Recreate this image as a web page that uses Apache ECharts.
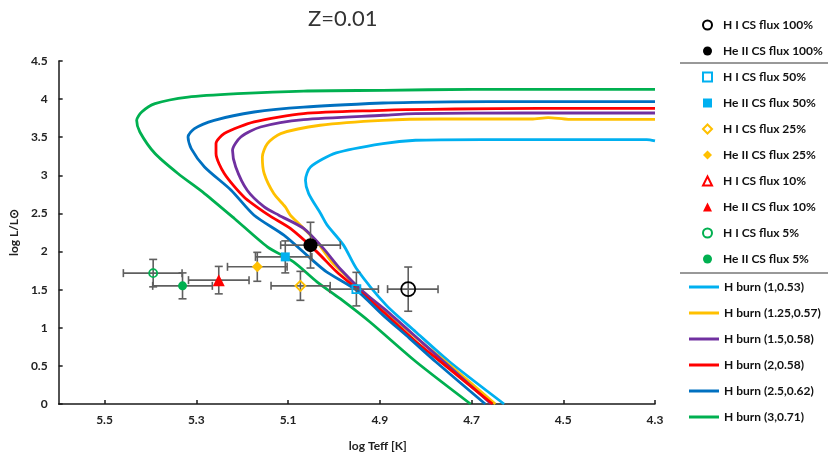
<!DOCTYPE html>
<html>
<head>
<meta charset="utf-8">
<script src="https://cdn.jsdelivr.net/npm/echarts@6/dist/echarts.min.js"></script>
<style>html,body{margin:0;padding:0;background:#fff;}</style>
</head>
<body>
<div id="main" style="width:830px;height:467px;"></div>
<script>
// tick labels
var xTicks = [4.3, 4.5, 4.7, 4.9, 5.1, 5.3, 5.5];

// evolutionary tracks [log Teff, log L/Lsun]
var burn1 = [[4.3,3.451],[4.318,3.469],[4.677,3.469],[4.822,3.460],[4.893,3.417],[4.995,3.294],[5.051,3.110],[5.062,2.936],[5.055,2.761],[5.029,2.499],[5.015,2.35],[4.979,2.084],[4.951,1.778],[4.886,1.297],[4.822,0.948],[4.748,0.554],[4.629,0]];
var burn125 = [[4.3,3.735],[4.489,3.735],[4.533,3.757],[4.569,3.739],[4.770,3.739],[4.893,3.722],[5.030,3.657],[5.116,3.548],[5.145,3.417],[5.156,3.241],[5.152,3.024],[5.131,2.761],[5.106,2.586],[5.095,2.477],[5.073,2.346],[5.037,2.127],[5.005,1.865],[4.979,1.713],[4.936,1.472],[4.878,1.166],[4.806,0.796],[4.756,0.554],[4.648,0]];
var burn15 = [[4.3,3.818],[4.590,3.818],[4.822,3.810],[4.893,3.788],[5.066,3.731],[5.160,3.634],[5.203,3.503],[5.221,3.329],[5.214,3.110],[5.189,2.805],[5.152,2.586],[5.120,2.477],[5.066,2.303],[5.023,2.041],[4.987,1.778],[4.936,1.472],[4.882,1.206],[4.806,0.799],[4.657,0]];
var burn2 = [[4.3,3.879],[4.554,3.879],[4.735,3.870],[4.843,3.862],[4.893,3.853],[5.066,3.810],[5.174,3.700],[5.239,3.548],[5.257,3.417],[5.257,3.286],[5.239,3.024],[5.196,2.717],[5.142,2.477],[5.095,2.303],[5.037,1.996],[4.994,1.734],[4.951,1.516],[4.893,1.210],[4.821,0.817],[4.763,0.533],[4.654,0]];
var burn25 = [[4.3,3.967],[4.662,3.967],[4.828,3.958],[4.893,3.949],[5.066,3.896],[5.174,3.831],[5.261,3.722],[5.304,3.613],[5.318,3.503],[5.311,3.351],[5.282,3.110],[5.224,2.805],[5.174,2.477],[5.109,2.215],[5.051,1.910],[5.016,1.734],[4.951,1.494],[4.893,1.166],[4.835,0.861],[4.778,0.554],[4.670,0]];
var burn3 = [[4.3,4.128],[4.698,4.128],[4.893,4.115],[5.066,4.106],[5.210,4.072],[5.318,4.027],[5.390,3.941],[5.419,3.831],[5.430,3.722],[5.423,3.569],[5.390,3.286],[5.340,3.024],[5.282,2.761],[5.217,2.434],[5.145,2.062],[5.088,1.865],[5.037,1.603],[4.987,1.385],[4.922,1.079],[4.821,0.554],[4.702,0]];

var trackNames = ['H burn (1,0.53)', 'H burn (1.25,0.57)', 'H burn (1.5,0.58)', 'H burn (2,0.58)', 'H burn (2.5,0.62)', 'H burn (3,0.71)'];
var trackData = [burn1, burn125, burn15, burn2, burn25, burn3];
var trackColors = ['#00B0F0', '#FFC000', '#7030A0', '#FF0000', '#0070C0', '#00B050'];

// observed points
var pointNames = ['H I CS flux 100%', 'He II CS flux 100%', 'H I CS flux 50%', 'He II CS flux 50%', 'H I CS flux 25%', 'He II CS flux 25%', 'H I CS flux 10%', 'He II CS flux 10%', 'H I CS flux 5%', 'He II CS flux 5%'];
var pointX    = [4.838, 5.051, 4.951, 5.106, 5.073, 5.167, null, 5.251, 5.394, 5.330];
var pointY    = [1.507, 2.084, 1.507, 1.930, 1.550, 1.800, null, 1.625, 1.717, 1.550];
var errXPlus  = [0.045, 0.065, 0.058, 0.065, 0.064, 0.065, null, 0.066, 0.065, 0.065];
var errXMinus = [0.065, 0.065, 0.048, 0.058, 0.065, 0.065, null, 0.066, 0.063, 0.065];
var errY      = [0.29, 0.30, 0.22, 0.21, 0.19, 0.19, null, 0.18, 0.18, 0.17];

var markerSymbols = ['circle', 'circle', 'rect', 'rect', 'diamond', 'diamond', 'triangle', 'triangle', 'circle', 'circle'];
var markerSizes = [14, 14, 8, 9, 10, 11, 11, 12, 8, 9];
var markerColors = ['#000000', '#000000', '#00B0F0', '#00B0F0', '#FFC000', '#FFC000', '#FF0000', '#FF0000', '#00B050', '#00B050'];
var markerHollow = [true, false, true, false, true, false, true, false, true, false];

var chart = echarts.init(document.getElementById('main'));
var font = 'Lato, "Open Sans", sans-serif';

var series = [];
trackNames.forEach(function (n, i) {
    series.push({
        name: n, type: 'line', data: trackData[i], smooth: 0.25,
        showSymbol: false, symbol: 'none', z: 2,
        lineStyle: { color: trackColors[i], width: 2.8 },
        itemStyle: { color: trackColors[i] }
    });
});

var errData = [];
pointX.forEach(function (x, i) {
    if (x == null) return;
    errData.push([x, pointY[i], errXPlus[i], errXMinus[i], errY[i]]);
});
series.push({
    type: 'custom', z: 3, silent: true, data: errData, encode: { x: 0, y: 1 },
    renderItem: function (params, api) {
        var x = api.value(0), y = api.value(1);
        var c = api.coord([x, y]);
        var l = api.coord([x + api.value(2), y]);
        var r = api.coord([x - api.value(3), y]);
        var t = api.coord([x, y + api.value(4)]);
        var b = api.coord([x, y - api.value(4)]);
        var cap = 4;
        var st = { stroke: '#5f5f5f', lineWidth: 1.6 };
        return { type: 'group', children: [
            { type: 'line', shape: { x1: l[0], y1: c[1], x2: r[0], y2: c[1] }, style: st },
            { type: 'line', shape: { x1: l[0], y1: c[1] - cap, x2: l[0], y2: c[1] + cap }, style: st },
            { type: 'line', shape: { x1: r[0], y1: c[1] - cap, x2: r[0], y2: c[1] + cap }, style: st },
            { type: 'line', shape: { x1: c[0], y1: t[1], x2: c[0], y2: b[1] }, style: st },
            { type: 'line', shape: { x1: c[0] - cap, y1: t[1], x2: c[0] + cap, y2: t[1] }, style: st },
            { type: 'line', shape: { x1: c[0] - cap, y1: b[1], x2: c[0] + cap, y2: b[1] }, style: st }
        ]};
    }
});

pointNames.forEach(function (n, i) {
    var col = markerColors[i];
    series.push({
        name: n, type: 'scatter', z: 4,
        data: pointX[i] == null ? [] : [[pointX[i], pointY[i]]],
        symbol: markerSymbols[i], symbolSize: markerSizes[i],
        itemStyle: markerHollow[i]
            ? { color: 'rgba(255,255,255,0)', borderColor: col, borderWidth: 1.8, opacity: 1 }
            : { color: col, opacity: 1 }
    });
});

var legendText = { fontFamily: font, fontWeight: 'bold', fontSize: 12, lineHeight: 14, color: '#111' };
var markerLegendText = Object.assign({ padding: [0, 0, 0, 6] }, legendText);

option = {
    animation: false,
    backgroundColor: '#fff',
    grid: { left: 53, right: 175, top: 61, bottom: 63 },
    xAxis: {
        type: 'value', min: 4.3, max: 5.6, inverse: true,
        name: 'log Teff [K]', nameLocation: 'middle', nameGap: 36,
        nameTextStyle: { fontFamily: font, fontWeight: 'bold', fontSize: 12, color: '#222', padding: [0, 0, 0, 42] },
        axisLine: { lineStyle: { color: '#1a1a1a', width: 1.5 } },
        axisTick: { inside: true, length: 4, customValues: xTicks, lineStyle: { color: '#1a1a1a', width: 1.5 } },
        axisLabel: { customValues: xTicks, margin: 10, fontFamily: font, fontWeight: 'bold', fontSize: 12, color: '#222',
            formatter: function (v) { return v.toFixed(1); } },
        splitLine: { show: false }
    },
    yAxis: {
        type: 'value', min: 0, max: 4.5, interval: 0.5,
        name: 'log L/L\u2299', nameLocation: 'middle', nameGap: 38, nameRotate: 90,
        nameTextStyle: { fontFamily: font, fontWeight: 'bold', fontSize: 12, color: '#222' },
        axisLine: { show: true, lineStyle: { color: '#1a1a1a', width: 1.5 } },
        axisTick: { show: true, inside: true, length: 4, lineStyle: { color: '#1a1a1a', width: 1.5 } },
        axisLabel: { margin: 11, fontFamily: font, fontWeight: 'bold', fontSize: 12, color: '#222' },
        splitLine: { show: false }
    },
    legend: [
        { orient: 'vertical', left: 702, top: 18, padding: 0, itemWidth: 9, itemHeight: 9, itemGap: 12,
          selectedMode: false, data: pointNames.slice(0, 2), textStyle: markerLegendText },
        { orient: 'vertical', left: 702, top: 70, padding: 0, itemWidth: 9, itemHeight: 9, itemGap: 12,
          selectedMode: false, data: pointNames.slice(2), textStyle: markerLegendText },
        { orient: 'vertical', left: 689, top: 280, padding: 0, itemWidth: 30, itemHeight: 3, itemGap: 12, icon: 'rect',
          selectedMode: false, data: trackNames, textStyle: legendText }
    ],
    graphic: [
        { type: 'text', left: 308, top: 8, style: { text: 'Z=0.01', fontFamily: font, fontSize: 22, fill: '#333' } },
        { type: 'line', shape: { x1: 680, y1: 63, x2: 828, y2: 63 }, style: { stroke: '#333', lineWidth: 1 } },
        { type: 'line', shape: { x1: 680, y1: 273, x2: 828, y2: 273 }, style: { stroke: '#333', lineWidth: 1 } }
    ],
    series: series
};
chart.setOption(option);
</script>
</body>
</html>
